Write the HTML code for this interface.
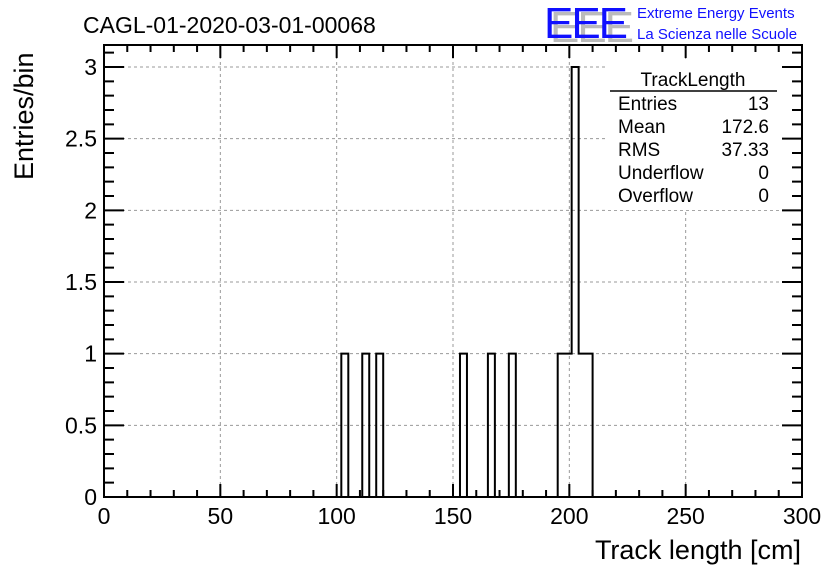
<!DOCTYPE html>
<html><head><meta charset="utf-8"><style>
body{margin:0;background:#fff;}
svg text{font-family:"Liberation Sans",sans-serif;}
</style></head><body>
<svg width="836" height="572" viewBox="0 0 836 572" xmlns="http://www.w3.org/2000/svg">
<rect width="836" height="572" fill="#fff"/>
<g id="grid"></g>
<g id="ticks"></g>
<path id="hist" fill="none" stroke="#000" stroke-width="2"/>
<rect x="104" y="45" width="698" height="452" fill="none" stroke="#000" stroke-width="2"/>
<g id="labels" font-size="23"></g>
<text x="83" y="33" font-size="23">CAGL-01-2020-03-01-00068</text>
<text x="801" y="559" font-size="27" text-anchor="end">Track length [cm]</text>
<text transform="translate(33,180) rotate(-90)" font-size="27">Entries/bin</text>
<g>
<text x="550" y="42" font-size="44" fill="#bbb" textLength="84">EEE</text>
<text x="544" y="38" font-size="44" fill="#1010ff" textLength="84">EEE</text>
<text x="637" y="18" font-size="15" fill="#1010ff">Extreme Energy Events</text>
<text x="637" y="39" font-size="15" fill="#1010ff">La Scienza nelle Scuole</text>
</g>
<g font-size="19">
<rect x="606" y="60" width="174" height="150" fill="#fff"/>
<text x="693" y="86" text-anchor="middle">TrackLength</text>
<line x1="610" y1="91" x2="777" y2="91" stroke="#000" stroke-width="1.5"/>
<text x="618" y="110">Entries</text><text x="769" y="110" text-anchor="end">13</text>
<text x="618" y="133">Mean</text><text x="769" y="133" text-anchor="end">172.6</text>
<text x="618" y="156">RMS</text><text x="769" y="156" text-anchor="end">37.33</text>
<text x="618" y="179">Underflow</text><text x="769" y="179" text-anchor="end">0</text>
<text x="618" y="202">Overflow</text><text x="769" y="202" text-anchor="end">0</text>
</g>
</svg>
<script>
const binStarts=[102,111,117,153,165,174,195,198,201,204,207];
const binCounts=[1,1,1,1,1,1,1,1,3,1,1];
const binWidth=3;
const xTicks=[0,50,100,150,200,250,300];
const yTicks=[0,0.5,1,1.5,2,2.5,3];
const yTickLabels=["0","0.5","1","1.5","2","2.5","3"];
const X0=104,X1=802,Y0=497,Y1=45;
const xs=v=>X0+(v-0)*(X1-X0)/300;
const ys=v=>Y0-v*(497-67)/3;
const NS="http://www.w3.org/2000/svg";
function mk(tag,attrs,parent){const e=document.createElementNS(NS,tag);for(const k in attrs)e.setAttribute(k,attrs[k]);parent.appendChild(e);return e;}
const grid=document.getElementById('grid'),ticks=document.getElementById('ticks'),labels=document.getElementById('labels');
xTicks.forEach(v=>{
  if(v>0&&v<300){const l=mk('line',{x1:xs(v),x2:xs(v),y1:Y0,y2:Y1,stroke:'#999','stroke-dasharray':'3,3','stroke-width':1},grid);
  
  }
  const t=mk('text',{x:xs(v),y:524,'text-anchor':'middle'},labels);t.textContent=v;
  
  
});
yTicks.forEach((v,i)=>{
  if(v>0){const l=mk('line',{x1:X0,x2:X1,y1:ys(v),y2:ys(v),stroke:'#999','stroke-dasharray':'3,3','stroke-width':1},grid);
  
  }
  const t=mk('text',{x:97,y:ys(v)+8,'text-anchor':'end'},labels);t.textContent=yTickLabels[i];
  
  
});
let d='';
for(let v=0;v<=300;v+=10){const big=v%50===0;const L=big?13:7;const x=xs(v);
 d+=`M${x},${Y0}V${Y0-L}M${x},${Y1}V${Y1+L}`;}
for(let k=0;k<=32;k++){const v=k/10;const y=ys(v);if(y<Y1)continue;const L=(k%5===0)?20:10;
 d+=`M${X0},${y}H${X0+L}M${X1},${y}H${X1-L}`;}
mk('path',{d:d,stroke:'#000','stroke-width':2,fill:'none'},ticks);
let h=`M${xs(0)},${Y0}`;
binStarts.forEach((s,i)=>{
  const adjPrev=i>0&&binStarts[i-1]+binWidth===s;
  if(!adjPrev)h+=`L${xs(s)},${Y0}`;
  h+=`L${xs(s)},${ys(binCounts[i])}L${xs(s+binWidth)},${ys(binCounts[i])}`;
  const nxt=binStarts[i+1];
  if(nxt!==s+binWidth)h+=`L${xs(s+binWidth)},${Y0}`;
});
h+=`L${xs(300)},${Y0}`;
document.getElementById('hist').setAttribute('d',h);
</script>
</body></html>
